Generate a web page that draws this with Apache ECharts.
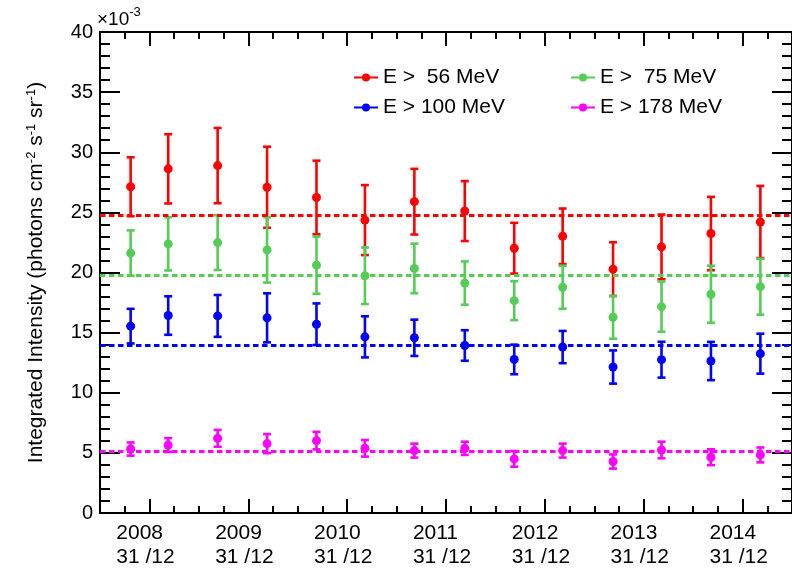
<!DOCTYPE html>
<html>
<head>
<meta charset="utf-8">
<script src="https://cdn.jsdelivr.net/npm/echarts@6/dist/echarts.min.js"></script>
<style>
  html, body { margin: 0; padding: 0; background: #fff; }
  #chart { width: 792px; height: 569px; }
</style>
</head>
<body>
<div id="chart"></div>
<script>
// Bin centres, in decimal years
const binCentres = [2008.81, 2009.19, 2009.69, 2010.19, 2010.69, 2011.18, 2011.68,
                    2012.19, 2012.69, 2013.18, 2013.69, 2014.18, 2014.68, 2015.18];

// Integrated intensity in units of 1e-3 photons cm^-2 s^-1 sr^-1, with 1-sigma errors
const flux56  = [27.13, 28.62, 28.89, 27.09, 26.24, 24.36, 25.89, 25.11, 22.02, 23.01, 20.28, 22.13, 23.24, 24.20];
const err56   = [2.45, 2.88, 3.13, 3.37, 3.06, 2.91, 2.73, 2.49, 2.11, 2.31, 2.24, 2.69, 3.05, 3.00];
const flux75  = [21.61, 22.38, 22.49, 21.88, 20.61, 19.73, 20.34, 19.12, 17.66, 18.77, 16.28, 17.16, 18.19, 18.82];
const err75   = [1.89, 2.21, 2.28, 2.72, 2.38, 2.35, 2.06, 1.80, 1.62, 1.79, 1.79, 2.09, 2.37, 2.33];
const flux100 = [15.54, 16.42, 16.39, 16.23, 15.70, 14.65, 14.57, 13.93, 12.77, 13.80, 12.14, 12.75, 12.64, 13.25];
const err100  = [1.44, 1.60, 1.74, 2.04, 1.73, 1.71, 1.51, 1.27, 1.23, 1.34, 1.38, 1.49, 1.59, 1.66];
const flux178 = [5.32, 5.65, 6.21, 5.77, 6.02, 5.38, 5.19, 5.38, 4.50, 5.19, 4.28, 5.24, 4.64, 4.83];
const err178  = [0.55, 0.58, 0.70, 0.79, 0.73, 0.69, 0.58, 0.55, 0.65, 0.58, 0.59, 0.69, 0.66, 0.62];

// Mean intensity over the whole period, per energy threshold
const meanFlux = [24.73, 19.81, 13.93, 5.16];

const seriesNames = ['E >  56 MeV', 'E >  75 MeV', 'E > 100 MeV', 'E > 178 MeV'];
const seriesColors = ['#ff0000', '#55cc55', '#0000ff', '#ff00ff'];

// Year boundaries (31 December) and their labels
const yearTicks = [2009, 2010, 2011, 2012, 2013, 2014, 2015];
const yearLabels = ['2008', '2009', '2010', '2011', '2012', '2013', '2014'];
const dayMonthLabel = '31 /12';

const FONT = "'Liberation Sans', Arial, Helvetica, sans-serif";
const X_MIN = 2008.5, X_MAX = 2015.5;
const LABEL_SHIFT = 0.335; // labels start a little left of their tick

const allFlux = [flux56, flux75, flux100, flux178];
const allErr = [err56, err75, err100, err178];

function errorBars(values, errs, color) {
  return {
    type: 'custom',
    name: 'bars',
    silent: true,
    z: 3,
    data: binCentres.map((x, i) => [x, values[i] - errs[i], values[i] + errs[i]]),
    encode: { x: 0, y: [1, 2] },
    renderItem(params, api) {
      const x = api.value(0);
      const lo = api.coord([x, api.value(1)]);
      const hi = api.coord([x, api.value(2)]);
      const cap = 4;
      const style = { stroke: color, lineWidth: 2.6, fill: null };
      return {
        type: 'group',
        children: [
          { type: 'line', shape: { x1: lo[0], y1: lo[1], x2: hi[0], y2: hi[1] }, style },
          { type: 'line', shape: { x1: lo[0] - cap, y1: lo[1], x2: lo[0] + cap, y2: lo[1] }, style },
          { type: 'line', shape: { x1: hi[0] - cap, y1: hi[1], x2: hi[0] + cap, y2: hi[1] }, style }
        ]
      };
    }
  };
}

function pointSeries(k) {
  return {
    type: 'line',
    name: seriesNames[k],
    z: 4,
    data: binCentres.map((x, i) => [x, allFlux[k][i]]),
    symbol: 'circle',
    symbolSize: 9,
    showSymbol: true,
    lineStyle: { width: 0 },
    itemStyle: { color: seriesColors[k] },
    markLine: {
      silent: true,
      symbol: ['none', 'none'],
      label: { show: false },
      lineStyle: { color: seriesColors[k], type: [5.5, 3.5], width: 3.2 },
      data: [{ yAxis: meanFlux[k] }]
    }
  };
}

const series = [];
for (let k = 0; k < 4; k++) {
  series.push(errorBars(allFlux[k], allErr[k], seriesColors[k]));
  series.push(pointSeries(k));
}

const axisLine = { show: true, onZero: false, lineStyle: { color: '#000', width: 2 } };
const tickLine = { color: '#000', width: 2 };

function xAxisCfg(position, major) {
  const cfg = {
    type: 'value', gridIndex: 0, position, min: X_MIN, max: X_MAX,
    axisLine, splitLine: { show: false },
    axisLabel: { show: false },
    axisTick: { show: true, inside: true, length: major ? 14 : 7, lineStyle: tickLine }
  };
  if (major) {
    cfg.axisTick.customValues = yearTicks;
  } else {
    cfg.interval = 0.25;
  }
  return cfg;
}

const xAxes = [
  xAxisCfg('bottom', true),
  xAxisCfg('bottom', false),
  xAxisCfg('top', true),
  xAxisCfg('top', false)
];
xAxes[0].axisLabel = {
  show: true,
  customValues: yearTicks.map(v => v - LABEL_SHIFT),
  formatter: (v) => {
    let idx = 0, best = Infinity;
    yearTicks.forEach((t, i) => {
      const d = Math.abs(t - LABEL_SHIFT - v);
      if (d < best) { best = d; idx = i; }
    });
    return yearLabels[idx] + '\n' + dayMonthLabel;
  },
  align: 'left',
  fontSize: 21,
  lineHeight: 24,
  margin: 8,
  color: '#000',
  fontFamily: FONT
};

function yAxisCfg(position, withLabels) {
  const cfg = {
    type: 'value', gridIndex: 0, position, min: 0, max: 40, interval: 5,
    axisLine, splitLine: { show: false },
    axisTick: { show: true, inside: true, length: 20, lineStyle: tickLine },
    minorTick: { show: true, splitNumber: 5, length: 10, lineStyle: tickLine },
    minorSplitLine: { show: false },
    axisLabel: { show: withLabels, fontSize: 20, margin: 7, color: '#000', fontFamily: FONT }
  };
  if (withLabels) {
    cfg.name = '{t|Integrated Intensity (photons cm}{s|-2}{t| s}{s|-1}{t| sr}{s|-1}{t|)}';
    cfg.nameLocation = 'middle';
    cfg.nameRotate = 90;
    cfg.nameGap = 52;
    cfg.nameTextStyle = {
      rich: {
        t: { fontSize: 21, color: '#000', fontFamily: FONT },
        s: { fontSize: 13, color: '#000', fontFamily: FONT, padding: [0, 0, 10, 0] }
      }
    };
  }
  return cfg;
}

const legendBase = {
  orient: 'vertical',
  top: 62,
  itemWidth: 24,
  itemHeight: 10,
  itemGap: 9,
  selectedMode: false,
  textStyle: { fontSize: 21, color: '#000', fontFamily: FONT },
  lineStyle: { width: 2, type: 'solid' }
};

const option = {
  animation: false,
  backgroundColor: '#fff',
  title: {
    text: '{m|×10}{e|-3}',
    left: 97,
    top: 6,
    padding: 0,
    textStyle: {
      fontWeight: 'normal',
      rich: {
        m: { fontSize: 19, fontWeight: 'normal', color: '#000', fontFamily: FONT },
        e: { fontSize: 13, fontWeight: 'normal', color: '#000', fontFamily: FONT, padding: [0, 0, 14, 0] }
      }
    }
  },
  legend: [
    Object.assign({}, legendBase, { left: 348, data: [seriesNames[0], seriesNames[2]] }),
    Object.assign({}, legendBase, { left: 565, data: [seriesNames[1], seriesNames[3]] })
  ],
  grid: { left: 100, top: 32, width: 696, height: 483, containLabel: false },
  xAxis: xAxes,
  yAxis: [yAxisCfg('left', true), yAxisCfg('right', false)],
  series
};

const chart = echarts.init(document.getElementById('chart'), null, { renderer: 'canvas' });
chart.setOption(option);
</script>
</body>
</html>
